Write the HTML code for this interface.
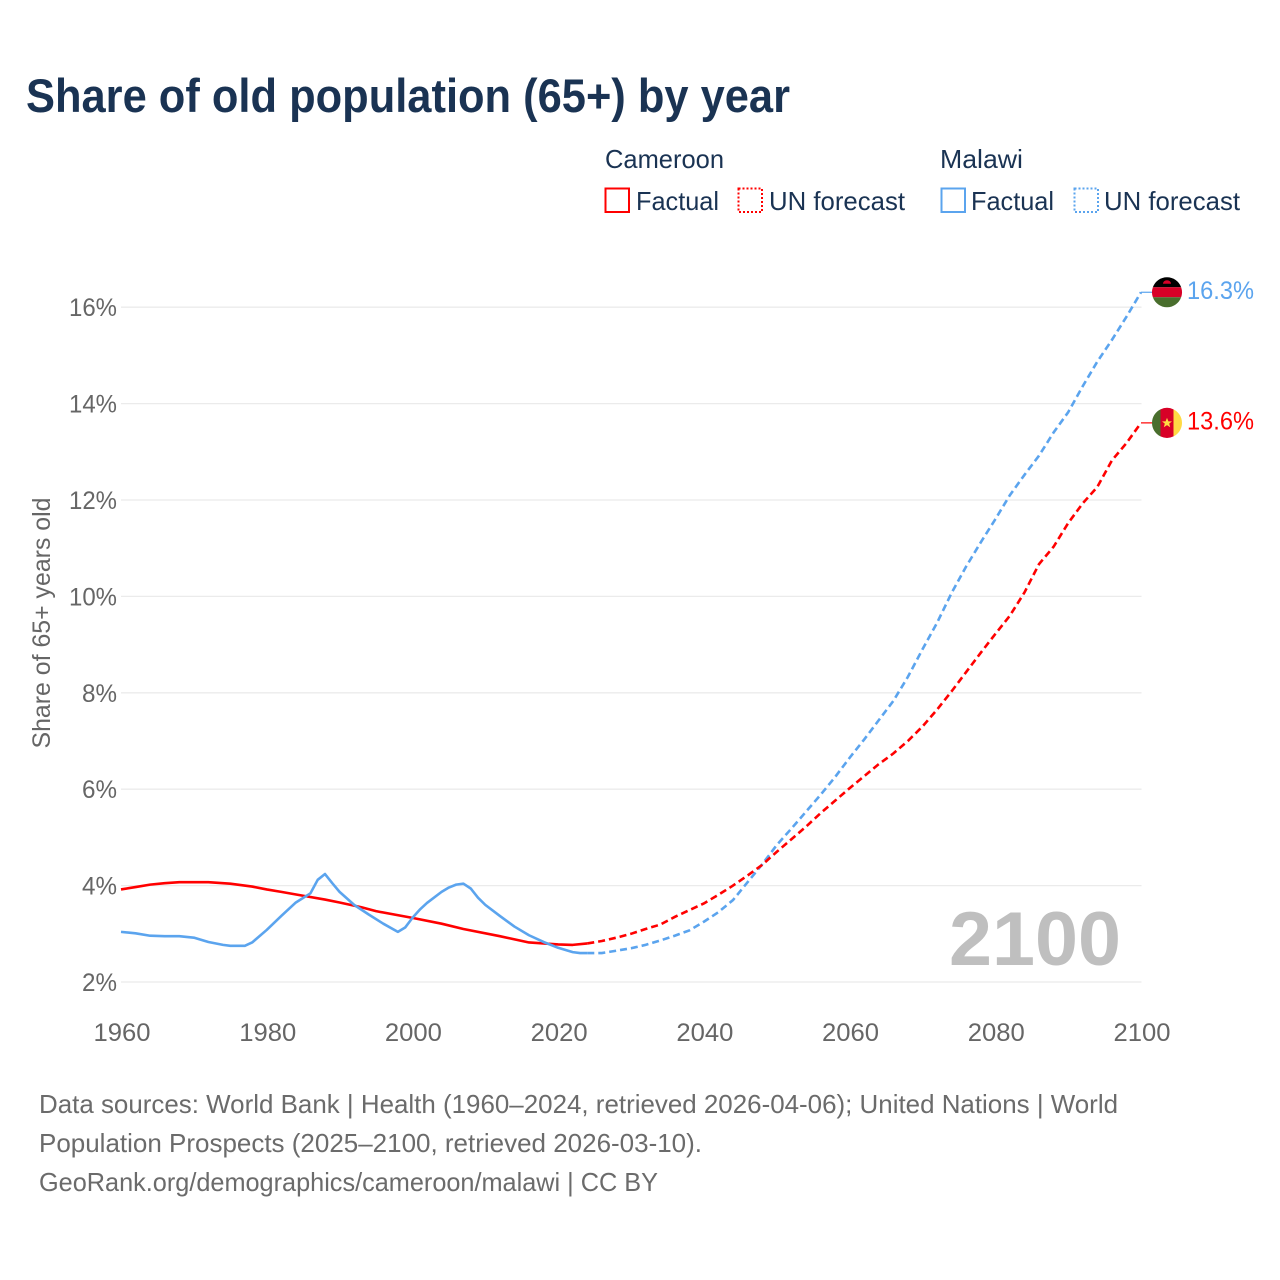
<!DOCTYPE html>
<html lang="en">
<head>
<meta charset="utf-8">
<title>Share of old population (65+) by year</title>
<style>
html,body{margin:0;padding:0;background:#fff;}
svg{display:block;font-family:"Liberation Sans",sans-serif;}
</style>
</head>
<body>
<svg id="chart" xmlns="http://www.w3.org/2000/svg" width="1280" height="1280" viewBox="0 0 1280 1280">
  <rect x="0" y="0" width="1280" height="1280" fill="#ffffff"/>
  <text x="26" y="112" font-size="47" font-weight="700" fill="#1a3353" textLength="764" lengthAdjust="spacingAndGlyphs">Share of old population (65+) by year</text>

  <g font-size="26" fill="#1a3353">
    <text x="605" y="168" textLength="119" lengthAdjust="spacingAndGlyphs">Cameroon</text>
    <rect x="605.5" y="188.5" width="23.5" height="23.5" fill="none" stroke="#ff0000" stroke-width="2"/>
    <text x="636" y="210" textLength="83" lengthAdjust="spacingAndGlyphs">Factual</text>
    <rect x="738.5" y="188.5" width="23.5" height="23.5" fill="none" stroke="#ff0000" stroke-width="2" stroke-dasharray="2 2"/>
    <text x="769" y="210" textLength="136" lengthAdjust="spacingAndGlyphs">UN forecast</text>
    <text x="940" y="168" textLength="83" lengthAdjust="spacingAndGlyphs">Malawi</text>
    <rect x="941.5" y="188.5" width="23.5" height="23.5" fill="none" stroke="#5ba4ee" stroke-width="2"/>
    <text x="971" y="210" textLength="83" lengthAdjust="spacingAndGlyphs">Factual</text>
    <rect x="1074.5" y="188.5" width="23.5" height="23.5" fill="none" stroke="#5ba4ee" stroke-width="2" stroke-dasharray="2 2"/>
    <text x="1104" y="210" textLength="136" lengthAdjust="spacingAndGlyphs">UN forecast</text>
  </g>

  <g id="grid"></g>
  <g id="yticks"></g>
  <g id="xticks"></g>
  <text transform="translate(50 623) rotate(-90)" text-anchor="middle" font-size="25" fill="#666666" textLength="251" lengthAdjust="spacingAndGlyphs">Share of 65+ years old</text>
  <text x="949" y="965" font-size="76" font-weight="700" fill="#bfbfbf" textLength="172" lengthAdjust="spacingAndGlyphs">2100</text>
  <g id="series"></g>
  <g id="ends"></g>

  <g font-size="26" fill="#6b6b6b">
    <text x="39" y="1113" textLength="1079" lengthAdjust="spacingAndGlyphs">Data sources: World Bank | Health (1960–2024, retrieved 2026-04-06); United Nations | World</text>
    <text x="39" y="1152" textLength="663" lengthAdjust="spacingAndGlyphs">Population Prospects (2025–2100, retrieved 2026-03-10).</text>
    <text x="39" y="1191" textLength="619" lengthAdjust="spacingAndGlyphs">GeoRank.org/demographics/cameroon/malawi | CC BY</text>
  </g>
</svg>

<script>
var xTickYears = [1960, 1980, 2000, 2020, 2040, 2060, 2080, 2100];
var yTickValues = [2, 4, 6, 8, 10, 12, 14, 16];

var cameroonFactualYears = [1960,1962,1964,1966,1968,1972,1975,1978,1980,1982,1985,1988,1990,1993,1995,2000,2004,2007,2012,2016,2020,2022,2024];
var cameroonFactualValues = [3.92,3.97,4.02,4.05,4.07,4.07,4.04,3.98,3.92,3.87,3.79,3.71,3.65,3.55,3.47,3.33,3.21,3.10,2.95,2.82,2.78,2.77,2.80];

var malawiFactualYears = [1960,1962,1964,1966,1968,1970,1972,1974,1975,1977,1978,1980,1982,1984,1986,1987,1988,1989,1990,1992,1994,1996,1998,1999,2000,2001,2002,2004,2005,2006,2007,2008,2009,2010,2012,2014,2016,2018,2020,2022,2023,2024];
var malawiFactualValues = [3.04,3.01,2.96,2.95,2.95,2.92,2.83,2.77,2.75,2.75,2.82,3.08,3.37,3.65,3.84,4.12,4.24,4.05,3.87,3.60,3.40,3.21,3.04,3.13,3.33,3.50,3.64,3.87,3.96,4.02,4.04,3.94,3.75,3.60,3.37,3.15,2.97,2.83,2.71,2.62,2.60,2.60];

var forecastYears = [2024,2026,2028,2030,2032,2034,2036,2038,2040,2042,2044,2046,2048,2050,2052,2054,2056,2058,2060,2062,2064,2066,2068,2070,2072,2074,2076,2078,2080,2082,2084,2086,2088,2090,2092,2094,2096,2098,2100];
var cameroonForecastValues = [2.80,2.85,2.92,3.00,3.10,3.19,3.35,3.49,3.63,3.81,4.00,4.21,4.43,4.70,4.96,5.22,5.50,5.76,6.02,6.27,6.52,6.74,7.00,7.30,7.65,8.03,8.43,8.83,9.22,9.60,10.08,10.67,11.03,11.52,11.93,12.27,12.82,13.18,13.60];
var malawiForecastValues = [2.60,2.60,2.65,2.70,2.77,2.86,2.96,3.07,3.25,3.45,3.70,4.07,4.44,4.84,5.18,5.53,5.88,6.25,6.65,7.03,7.43,7.83,8.33,8.90,9.45,10.07,10.62,11.12,11.60,12.10,12.52,12.92,13.40,13.82,14.36,14.87,15.32,15.80,16.31];

var NS = 'http://www.w3.org/2000/svg';
var RED = '#ff0000';
var BLUE = '#5ba4ee';

function xScale(year) { return 121 + (year - 1960) * (1020 / 140); }
function yScale(value) { return 982 - (value - 2) * 48.2; }

function make(tag, attrs, parent) {
  var el = document.createElementNS(NS, tag);
  for (var key in attrs) { el.setAttribute(key, attrs[key]); }
  parent.appendChild(el);
  return el;
}

var gridGroup = document.getElementById('grid');
var yTickGroup = document.getElementById('yticks');
var xTickGroup = document.getElementById('xticks');
var seriesGroup = document.getElementById('series');
var endGroup = document.getElementById('ends');

yTickValues.forEach(function (v) {
  var line = make('line', {x1: 121, x2: 1141.5, y1: yScale(v), y2: yScale(v), stroke: '#ebebeb', 'stroke-width': 1.3}, gridGroup);
  
  
  var label = make('text', {x: 117, y: yScale(v) + 9, 'text-anchor': 'end', 'font-size': 25, fill: '#666666', textLength: v >= 10 ? 48 : 35, lengthAdjust: 'spacingAndGlyphs'}, yTickGroup);
  label.textContent = v + '%';
  
  
});

xTickYears.forEach(function (year) {
  var label = make('text', {x: xScale(year) + 1, y: 1041, 'text-anchor': 'middle', 'font-size': 25, fill: '#666666', textLength: 57, lengthAdjust: 'spacingAndGlyphs'}, xTickGroup);
  label.textContent = String(year);
  
  
});

function linePath(years, values) {
  return years.map(function (year, i) {
    return (i ? 'L' : 'M') + xScale(year).toFixed(2) + ' ' + yScale(values[i]).toFixed(2);
  }).join(' ');
}

var redFactual = make('path', {d: linePath(cameroonFactualYears, cameroonFactualValues), fill: 'none', stroke: RED, 'stroke-width': 2.6, 'stroke-linejoin': 'round'}, seriesGroup);



var blueFactual = make('path', {d: linePath(malawiFactualYears, malawiFactualValues), fill: 'none', stroke: BLUE, 'stroke-width': 2.6, 'stroke-linejoin': 'round'}, seriesGroup);



var blueForecast = make('path', {d: linePath(forecastYears, malawiForecastValues), fill: 'none', stroke: BLUE, 'stroke-width': 2.6, 'stroke-dasharray': '7 4'}, seriesGroup);



var redForecast = make('path', {d: linePath(forecastYears, cameroonForecastValues), fill: 'none', stroke: RED, 'stroke-width': 2.6, 'stroke-dasharray': '7 4'}, seriesGroup);



function drawEnd(values, color, country) {
  var last = values[values.length - 1];
  var px = xScale(2100);
  var py = yScale(last);
  var cx = 1167;
  var connector = make('line', {x1: px, x2: cx - 14, y1: py, y2: py, stroke: color, 'stroke-width': 1.2}, endGroup);
  
  
  var label = make('text', {x: 1187, y: py + 6.5, 'font-size': 25, fill: color, textLength: 67, lengthAdjust: 'spacingAndGlyphs'}, endGroup);
  label.textContent = last.toFixed(1) + '%';
  
  
  var flag = make('g', {transform: 'translate(' + cx + ' ' + py + ')'}, endGroup);
  
  
  return flag;
}

var malawiFlag = drawEnd(malawiForecastValues, BLUE, 'malawi');
make('path', {d: 'M-14.14 -5 A15 15 0 0 1 14.14 -5 Z', fill: '#000000'}, malawiFlag);
make('path', {d: 'M-14.14 -5 A15 15 0 0 0 -14.14 5 L14.14 5 A15 15 0 0 0 14.14 -5 Z', fill: '#d80027'}, malawiFlag);
make('path', {d: 'M-14.14 5 A15 15 0 0 0 14.14 5 Z', fill: '#496e2d'}, malawiFlag);
make('path', {d: 'M-4 -8.5 A4 3.5 0 0 1 4 -8.5 Z', fill: '#d80027'}, malawiFlag);

var cameroonFlag = drawEnd(cameroonForecastValues, RED, 'cameroon');
make('path', {d: 'M-6.5 -13.52 A15 15 0 0 1 6.5 -13.52 L6.5 13.52 A15 15 0 0 1 -6.5 13.52 Z', fill: '#d80027'}, cameroonFlag);
make('path', {d: 'M-6.5 -13.52 A15 15 0 0 0 -6.5 13.52 Z', fill: '#496e2d'}, cameroonFlag);
make('path', {d: 'M6.5 -13.52 A15 15 0 0 1 6.5 13.52 Z', fill: '#ffda44'}, cameroonFlag);
make('path', {d: 'M0 -5 L1.4 -1.5 L5 -1.5 L2.2 0.8 L3.2 4.4 L0 2.3 L-3.2 4.4 L-2.2 0.8 L-5 -1.5 L-1.4 -1.5 Z', fill: '#ffda44'}, cameroonFlag);
</script>
</body>
</html>
